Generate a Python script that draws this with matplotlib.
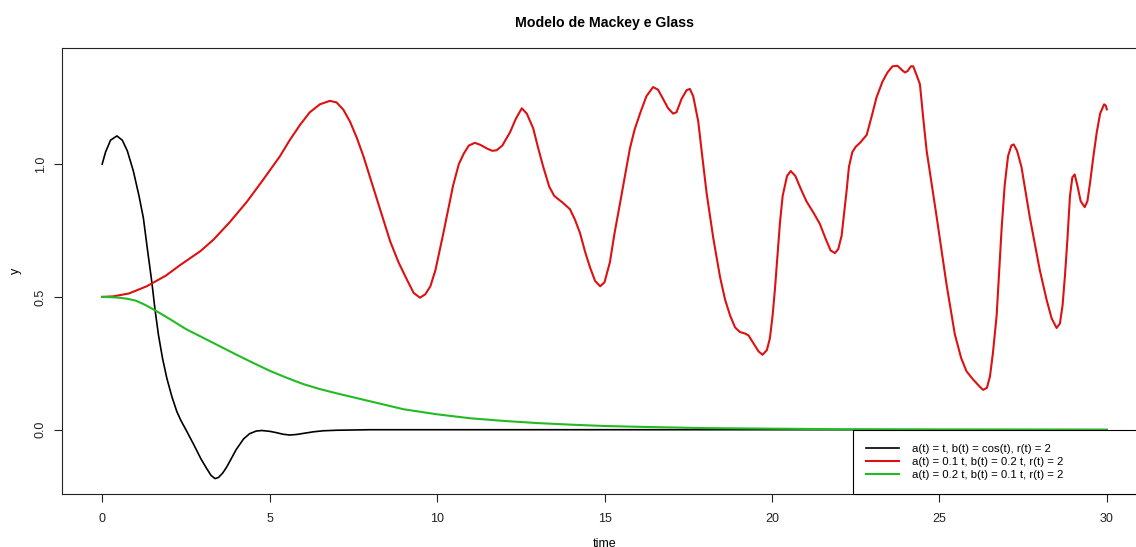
import matplotlib
matplotlib.use("Agg")
import matplotlib.pyplot as plt
from matplotlib.patches import Rectangle

plt.rcParams["font.family"] = ["Liberation Sans", "DejaVu Sans"]

# Solutions of the Mackey-Glass model for three parameter choices
t_black = [0, 0.1, 0.25, 0.44, 0.6, 0.75, 0.93, 1.1, 1.23, 1.35, 1.48, 1.58,
           1.68, 1.8, 1.93, 2.08, 2.23, 2.35, 2.5, 2.73, 2.95, 3.12, 3.25,
           3.37, 3.47, 3.6, 3.72, 3.85, 4.0, 4.22, 4.4, 4.6, 4.77, 5.0, 5.2,
           5.4, 5.6, 5.8, 6.0, 6.3, 6.6, 7.0, 7.5, 8.0, 30.0]
y_black = [1.0, 1.045, 1.09, 1.106, 1.09, 1.05, 0.974, 0.88, 0.797, 0.68,
           0.558, 0.45, 0.357, 0.27, 0.194, 0.125, 0.068, 0.035, 0.0, -0.055,
           -0.11, -0.146, -0.172, -0.184, -0.18, -0.163, -0.14, -0.11, -0.075,
           -0.035, -0.015, -0.005, -0.003, -0.006, -0.011, -0.017, -0.02,
           -0.018, -0.014, -0.008, -0.004, -0.002, -0.001, 0.0, 0.0]

t_red = [0, 0.33, 0.8, 1.33, 1.9, 2.33, 2.93, 3.32, 3.8, 4.32, 4.8, 5.31,
         5.6, 5.91, 6.2, 6.5, 6.8, 7.0, 7.2, 7.4, 7.6, 7.8, 8.1, 8.4, 8.6,
         8.85, 9.1, 9.3, 9.49, 9.65, 9.8, 9.95, 10.18, 10.48, 10.65, 10.8,
         10.95, 11.13, 11.3, 11.5, 11.65, 11.78, 11.95, 12.18, 12.35, 12.53,
         12.68, 12.87, 13.02, 13.17, 13.35, 13.5, 13.75, 13.97, 14.12, 14.27,
         14.42, 14.57, 14.72, 14.87, 15.0, 15.16, 15.3, 15.46, 15.76, 15.9,
         16.06, 16.25, 16.45, 16.6, 16.75, 16.9, 17.05, 17.15, 17.3, 17.45,
         17.55, 17.65, 17.8, 17.9, 18.05, 18.25, 18.45, 18.6, 18.75, 18.9,
         19.04, 19.2, 19.3, 19.45, 19.6, 19.72, 19.85, 19.94, 20.02, 20.09,
         20.24, 20.32, 20.45, 20.56, 20.7, 20.85, 21.03, 21.25, 21.43, 21.6,
         21.75, 21.88, 21.98, 22.08, 22.15, 22.23, 22.3, 22.4, 22.5, 22.63,
         22.83, 23.0, 23.12, 23.3, 23.45, 23.6, 23.75, 23.9, 23.97, 24.05,
         24.15, 24.22, 24.32, 24.42, 24.52, 24.62, 24.92, 25.21, 25.46, 25.65,
         25.81, 26.0, 26.11, 26.22, 26.31, 26.42, 26.51, 26.6, 26.71, 26.86,
         26.95, 27.05, 27.15, 27.22, 27.32, 27.45, 27.7, 28.0, 28.2, 28.35,
         28.5, 28.6, 28.68, 28.75, 28.82, 28.9, 28.97, 29.04, 29.12, 29.22,
         29.34, 29.42, 29.5, 29.6, 29.7, 29.8, 29.92, 29.97, 30.0]
y_red = [0.5, 0.502, 0.513, 0.54, 0.58, 0.62, 0.672, 0.715, 0.78, 0.858,
         0.94, 1.03, 1.09, 1.148, 1.195, 1.225, 1.238, 1.232, 1.205, 1.16,
         1.1, 1.03, 0.91, 0.79, 0.709, 0.63, 0.565, 0.515, 0.497, 0.51, 0.54,
         0.6, 0.735, 0.92, 1.0, 1.04, 1.07, 1.08, 1.072, 1.058, 1.05, 1.052,
         1.07, 1.12, 1.17, 1.21, 1.19, 1.135, 1.06, 0.99, 0.915, 0.88, 0.855,
         0.83, 0.79, 0.74, 0.67, 0.61, 0.56, 0.54, 0.555, 0.63, 0.74, 0.85,
         1.06, 1.13, 1.19, 1.255, 1.29, 1.28, 1.245, 1.21, 1.19, 1.195, 1.245,
         1.278, 1.283, 1.255, 1.16, 1.05, 0.89, 0.72, 0.575, 0.49, 0.43,
         0.385, 0.368, 0.362, 0.355, 0.325, 0.295, 0.282, 0.3, 0.345, 0.43,
         0.53, 0.78, 0.88, 0.955, 0.974, 0.955, 0.91, 0.86, 0.815, 0.775,
         0.72, 0.675, 0.665, 0.68, 0.73, 0.81, 0.9, 0.99, 1.045, 1.065, 1.08,
         1.11, 1.19, 1.25, 1.31, 1.345, 1.368, 1.37, 1.352, 1.345, 1.35,
         1.368, 1.368, 1.335, 1.3, 1.17, 1.05, 0.8, 0.55, 0.36, 0.27, 0.22,
         0.19, 0.175, 0.16, 0.15, 0.158, 0.2, 0.29, 0.43, 0.76, 0.92, 1.03,
         1.07, 1.074, 1.05, 0.99, 0.8, 0.6, 0.49, 0.42, 0.383, 0.4, 0.47,
         0.58, 0.71, 0.88, 0.95, 0.961, 0.92, 0.86, 0.838, 0.86, 0.93, 1.03,
         1.12, 1.19, 1.225, 1.22, 1.206]

t_green = [0, 0.25, 0.5, 0.75, 1.0, 1.25, 1.5, 1.75, 2.0, 2.5, 3.0, 3.5, 4.0,
           4.5, 5.0, 5.5, 6.0, 6.5, 7.0, 7.5, 8.0, 9.0, 10.0, 11.0, 12.0,
           13.0, 14.0, 15.0, 16.0, 18.0, 20.0, 22.0, 25.0, 30.0]
y_green = [0.5, 0.499, 0.497, 0.493, 0.486, 0.472, 0.455, 0.437, 0.418,
           0.379, 0.347, 0.315, 0.283, 0.252, 0.222, 0.196, 0.172, 0.153,
           0.137, 0.122, 0.107, 0.077, 0.058, 0.043, 0.033, 0.025, 0.019,
           0.014, 0.011, 0.006, 0.004, 0.002, 0.001, 0.0]

labels = ["a(t) = t, b(t) = cos(t), r(t) = 2",
          "a(t) = 0.1 t, b(t) = 0.2 t, r(t) = 2",
          "a(t) = 0.2 t, b(t) = 0.1 t, r(t) = 2"]

W, H = 1136, 547
fig = plt.figure(figsize=(W / 100, H / 100), dpi=100)
ax = fig.add_axes([62 / W, 1 - 494 / H, 1085 / W, 446 / H])

ax.plot(t_black, y_black, color="black", lw=1.2, label=labels[0])
ax.plot(t_red, y_red, color="#DD1111", lw=1.5, label=labels[1])
ax.plot(t_green, y_green, color="#22BB22", lw=1.5, label=labels[2])

ax.set_xlim(-1.2, 31.2)
ax.set_ylim(-0.242, 1.437)
ax.set_xticks([0, 5, 10, 15, 20, 25, 30])
ax.set_yticks([0.0, 0.5, 1.0])
ax.set_yticklabels(["0.0", "0.5", "1.0"], rotation=90, va="center")
ax.tick_params(direction="out", length=6, width=0.8, labelsize=9,
               colors="#222222")
ax.tick_params(axis="x", pad=8)
ax.tick_params(axis="y", pad=5)
for sp in ax.spines.values():
    sp.set_linewidth(0.8)
    sp.set_color("#222222")

ax.set_xlabel("time", fontsize=9, labelpad=9)
ax.set_ylabel("y", fontsize=9, labelpad=9)
ax.set_title("Modelo de Mackey e Glass", fontsize=10.2, fontweight="bold",
             pad=15)

# legend box spans from x=853px to the right edge of the plot region
box = Rectangle((853 / W, 1 - 494 / H), (1147 - 853) / W, 64 / H,
                transform=fig.transFigure, facecolor="white",
                edgecolor="black", linewidth=0.8, zorder=5, clip_on=False)
ax.add_patch(box)
leg = ax.legend(loc="upper left", bbox_to_anchor=(866 / W, 1 - 444 / H),
                bbox_transform=fig.transFigure, fontsize=8.2, frameon=False,
                borderaxespad=0, borderpad=0, handlelength=2.9,
                handletextpad=1.1, labelspacing=0.25)
leg.set_zorder(6)

fig.savefig("out.png", dpi=100)
